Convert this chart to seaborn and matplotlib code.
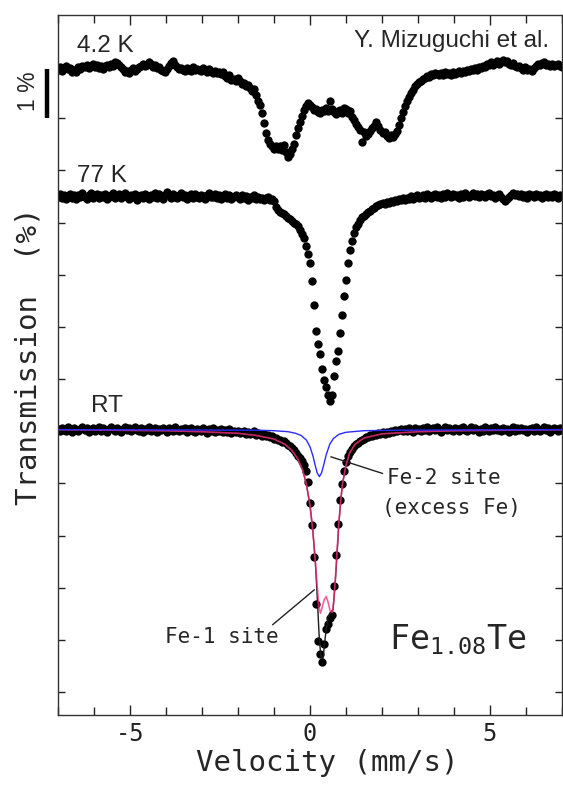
import numpy as np
import pandas as pd
import matplotlib
matplotlib.use("Agg")
import matplotlib.pyplot as plt
import matplotlib.transforms as mtransforms
from matplotlib.ticker import MultipleLocator
import seaborn as sns

# Mossbauer spectra of Fe1.08Te: relative transmission, in units of 0.01 %
t_42K = [
    -3, 2, -6, 1, 4, -2, 0, -7, -3, -8,
    3, -1, 5, 2, 7, 0, 4, 8, 3, 6,
    1, 5, -2, 4, 6, 2, 9, 5, 12, 10,
    7, 3, -2, -7, -5, -9, -3, 0, -6, -2,
    2, 5, 9, 4, 7, 12, 8, 3, 6, 1,
    2, -3, -6, -8, -2, 4, 10, 13, 6, 2,
    -2, 1, -4, -6, 0, -3, -5, 2, -4, -1,
    -3, -6, 0, -4, -7, -2, -5, -9, -6, -10,
    -8, -12, -7, -15, -18, -14, -22, -20, -25, -19,
    -24, -30, -28, -35, -33, -38, -44, -40, -52, -62,
    -70, -86, -106, -124, -138, -146, -150, -154, -149, -155,
    -150, -156, -148, -160, -170, -164, -155, -145, -128, -115,
    -104, -92, -80, -72, -66, -70, -75, -80, -78, -84,
    -86, -80, -83, -76, -82, -62, -79, -84, -88, -83,
    -80, -85, -76, -79, -86, -83, -94, -100, -107, -112,
    -118, -142, -122, -130, -126, -120, -115, -110, -104, -110,
    -118, -125, -122, -130, -134, -128, -131, -126, -120, -108,
    -96, -84, -72, -63, -55, -47, -41, -35, -31, -27,
    -24, -21, -18, -15, -17, -12, -14, -9, -11, -13,
    -10, -14, -8, -12, -9, -13, -7, -11, -10, -6,
    -9, -5, -8, -3, -6, -2, -4, 0, -3, 2,
    1, 5, 3, 8, 6, 11, 7, 10, 13, 9,
    12, 15, 11, 14, 9, 6, 10, 4, 2, 5,
    0, -3, 2, -4, -1, -5, 1, 4, 8, 6,
    10, 12, 7, 9, 5, 8, 4, 6, 9, 5, 3,
]
t_77K = [
    0, 4, -3, 2, -5, 1, 5, -2, 3, -4,
    2, -1, 6, 0, -4, 3, 7, -2, 1, 5,
    -3, 2, -1, 4, -5, 0, 3, 6, -2, 1,
    5, -3, 2, 7, 0, -4, 3, -1, 4, -6,
    1, 3, -2, 5, -1, -5, 2, 0, 6, -3,
    4, 1, -4, 3, 8, 2, -2, 5, 0, -3,
    2, 6, -1, 3, -4, 1, 4, -2, 5, 0,
    -3, 3, 1, -5, 2, 6, -1, 0, 4, -2,
    3, -4, 1, 5, -2, 2, -5, 0, 3, -1,
    -4, 2, -2, 1, -6, 0, -3, 2, -4, -1,
    -5, -2, -6, -3, 0, -7, -4, -9, -20, -26,
    -29, -31, -34, -38, -41, -43, -47, -50, -53, -57,
    -64, -71, -80, -94, -110, -128, -162, -208, -258, -282,
    -302, -330, -352, -366, -380, -392, -381, -345, -316, -297,
    -262, -228, -190, -160, -127, -103, -86, -70, -59, -52,
    -45, -40, -37, -33, -30, -27, -24, -22, -19, -17,
    -15, -13, -14, -10, -12, -8, -10, -6, -9, -5,
    -7, -3, -6, -2, -5, 1, -4, -1, 2, -3,
    0, 3, -2, 4, 1, -3, 2, 5, -1, 3,
    -2, 4, 0, 6, 2, -1, 5, 1, 3, -2,
    4, 0, 6, 2, -1, 3, 7, 1, 4, 0,
    5, 2, -1, 4, 6, 1, 3, -3, 2, 5,
    0, -4, -8, -5, -1, 3, 6, 2, 5, 1,
    4, 0, 3, -2, 5, 2, -1, 4, 1, 3,
    -2, 2, 5, 0, 3, -1, 4, 2, -2, 3, 1,
]
t_RT = [
    2, -3, 4, 0, -2, 5, 1, -4, 3, -1,
    -3, 2, 6, -1, 3, -4, 0, 4, -2, 1,
    5, -2, 3, 0, -5, 2, 6, 1, -3, 4,
    0, -4, 2, 5, -1, 3, -3, 1, 6, 0,
    -2, 4, -4, 2, 0, 5, -3, 1, 3, -5,
    2, -1, 4, 0, -4, 3, 1, -2, 5, -1,
    -3, 2, 0, 4, -5, 1, 3, -2, -4, 2,
    0, -3, 3, -1, -6, 1, -2, 4, -4, 0,
    -3, 1, -5, -1, -4, 2, -6, -2, -5, -3,
    -7, -4, -2, -8, -5, -9, -6, -3, -10, -7,
    -8, -12, -9, -13, -11, -15, -13, -17, -16, -19,
    -20, -23, -22, -26, -29, -31, -35, -39, -45, -50,
    -55, -61, -68, -80, -100, -140, -182, -245, -335, -405,
    -430, -445, -410, -382, -372, -362, -356, -300, -240, -180,
    -135, -104, -80, -62, -51, -43, -37, -32, -28, -25,
    -22, -19, -17, -14, -15, -11, -13, -9, -10, -7,
    -8, -5, -9, -4, -6, -2, -5, 0, -3, -1,
    2, -3, 1, -2, 4, 0, -4, 3, -1, 2,
    -2, 4, 0, 5, -3, 1, 3, -1, 6, 0,
    -4, 2, 5, -1, 3, 0, -3, 4, 1, -2,
    3, 6, 0, -3, 2, 5, -1, 4, 0, -4,
    2, -2, 5, 1, -3, 3, 0, 6, -1, 2,
    -3, 4, 0, 2, -4, 1, 5, -2, 3, 0,
    4, -1, 2, -5, 1, 3, -2, 5, 0, -3,
    2, 6, -1, 3, -4, 0, 4, 1, -2, 3, 0,
]

# baseline positions (%) at which each spectrum is stacked
offset_42K = 6.96
offset_77K = 4.50
offset_RT = 0.03

# RT fit curves: velocity (mm/s) and relative transmission (%)
fit_total_v = [-7, -4, -3, -2, -1.5, -1.0, -0.7, -0.5, -0.35, -0.2, -0.1, 0.0,
               0.08, 0.15, 0.2, 0.25, 0.29, 0.34, 0.4, 0.45, 0.5, 0.56, 0.62,
               0.66, 0.7, 0.75, 0.8, 0.85, 0.9, 1.0, 1.1, 1.25, 1.5, 2.0, 3.0,
               4.0, 7.0]
fit_total = [0, -0.02, -0.04, -0.07, -0.11, -0.18, -0.28, -0.40, -0.55, -0.78,
             -1.05, -1.45, -1.95, -2.55, -3.0, -3.4, -3.52, -3.4, -3.25, -3.2,
             -3.3, -3.48, -3.5, -3.3, -2.9, -2.35, -1.8, -1.4, -1.05, -0.68,
             -0.45, -0.28, -0.16, -0.08, -0.04, -0.02, 0]
fit_fe1_v = [-7, -3, -2, -1.5, -1, -0.7, -0.5, -0.35, -0.2, -0.1, 0, 0.08,
             0.15, 0.2, 0.25, 0.3, 0.36, 0.42, 0.5, 0.58, 0.64, 0.7, 0.75, 0.8,
             0.85, 0.9, 1.0, 1.1, 1.25, 1.5, 2, 3, 7]
fit_fe1 = [0, -0.04, -0.07, -0.11, -0.18, -0.28, -0.40, -0.55, -0.78, -1.05,
           -1.45, -1.95, -2.55, -3.2, -3.9, -4.35, -4.4, -4.0, -3.6, -3.5,
           -3.45, -2.95, -2.4, -1.82, -1.4, -1.05, -0.68, -0.45, -0.28, -0.16,
           -0.08, -0.04, 0]
fit_fe2_v = [-7, -1.5, -1.0, -0.6, -0.4, -0.25, -0.1, 0.0, 0.08, 0.15, 0.2,
             0.26, 0.32, 0.38, 0.45, 0.55, 0.65, 0.8, 1.0, 1.5, 2.5, 7]
fit_fe2 = [0, -0.01, -0.02, -0.04, -0.07, -0.11, -0.2, -0.33, -0.5, -0.7,
           -0.83, -0.9, -0.83, -0.68, -0.48, -0.28, -0.17, -0.09, -0.05, -0.02,
           -0.01, 0]

x_major = [-5, 0, 5]

sns.set_style("ticks")
plt.rcParams["font.family"] = ["Liberation Sans", "DejaVu Sans"]
plt.rcParams["mathtext.fontset"] = "custom"
plt.rcParams["mathtext.rm"] = "DejaVu Sans Mono"
MONO = ["DejaVu Sans Mono", "DejaVu Sans"]
SANS = ["Liberation Sans", "DejaVu Sans"]

velocity = np.linspace(-7, 7, len(t_RT))
frames = []
for name, vals, off in [("4.2 K", t_42K, offset_42K),
                        ("77 K", t_77K, offset_77K),
                        ("RT", t_RT, offset_RT)]:
    frames.append(pd.DataFrame({
        "velocity": velocity,
        "transmission": np.asarray(vals) / 100.0 + off,
        "spectrum": name,
    }))
data = pd.concat(frames, ignore_index=True)

fig = plt.figure(figsize=(5.63, 7.85), dpi=100)
ax = fig.add_axes([0.1036, 0.0892, 0.8941, 0.8917])

# fit components of the room-temperature spectrum
fe1 = pd.DataFrame({"v": fit_fe1_v, "t": np.asarray(fit_fe1) + offset_RT})
tot = pd.DataFrame({"v": fit_total_v, "t": np.asarray(fit_total) + offset_RT})
fe2 = pd.DataFrame({"v": fit_fe2_v, "t": np.asarray(fit_fe2) + offset_RT})

sns.scatterplot(data=data, x="velocity", y="transmission", color="black",
                s=36, linewidth=0, ax=ax, zorder=2, legend=False)
sns.lineplot(data=fe1, x="v", y="t", color="#1a1a1a", lw=1.0, ax=ax,
             zorder=3, sort=False)
sns.lineplot(data=tot, x="v", y="t", color="#ff2a7f", lw=1.2, alpha=0.75,
             ax=ax, zorder=4, sort=False)
sns.lineplot(data=fe2, x="v", y="t", color="#2b2bff", lw=1.0, ax=ax,
             zorder=5, sort=False)

ax.set_xlim(-7, 7)
ax.set_ylim(-5.44, 7.98)
ax.set_xticks(x_major)
ax.set_xticklabels([str(v) for v in x_major], family=MONO, fontsize=17)
ax.xaxis.set_minor_locator(MultipleLocator(1))
ax.yaxis.set_major_locator(MultipleLocator(1))
ax.set_yticklabels([])
ax.tick_params(axis="x", which="major", direction="in", length=7.5,
               width=1.0, top=True, pad=5, colors="#222222")
ax.tick_params(axis="x", which="minor", direction="in", length=5.8,
               width=1.0, top=True, colors="#222222")
ax.tick_params(axis="y", which="major", direction="in", length=5,
               width=1.0, right=True, colors="#222222")
for sp in ax.spines.values():
    sp.set_visible(True)
    sp.set_linewidth(1.0)
    sp.set_color("#333333")

ax.set_xlabel("Velocity (mm/s)", family=MONO, fontsize=21)
ax.xaxis.set_label_coords(0.534, -0.0686)
ax.xaxis.label.set_verticalalignment("center")
ax.set_ylabel("Transmission  (%)", family=MONO, fontsize=21)
ax.yaxis.set_label_coords(-0.060, 0.513)
ax.yaxis.label.set_verticalalignment("center")

# spectrum labels
ax.text(-6.49, 7.27, "4.2 K", family=SANS, fontsize=17.5, va="baseline")
ax.text(-6.49, 4.78, "77 K", family=SANS, fontsize=17.5, va="baseline")
ax.text(-6.08, 0.37, "RT", family=SANS, fontsize=17.5, va="baseline")
ax.text(6.65, 7.37, "Y. Mizuguchi et al.", family=SANS, fontsize=17.5,
        ha="right", va="baseline")

# 1 % scale bar
blend = mtransforms.blended_transform_factory(ax.transAxes, ax.transData)
ax.plot([-0.023, -0.023], [6.0, 6.94], color="black", lw=3.2,
        transform=blend, clip_on=False, solid_capstyle="butt")
ax.text(-0.060, 6.52, "1 %", family=SANS, fontsize=16.5, rotation=90,
        ha="center", va="center", transform=blend)

# site annotations
ax.plot([0.58, 2.02], [-0.49, -0.81], color="#222222", lw=1.0)
ax.text(2.15, -0.90, "Fe-2 site", family=MONO, fontsize=15, va="center")
ax.text(2.0, -1.47, "(excess Fe)", family=MONO, fontsize=15, va="center")
ax.plot([-1.04, 0.12], [-3.71, -3.04], color="#222222", lw=1.0)
ax.text(-4.02, -3.94, "Fe-1 site", family=MONO, fontsize=15, va="center")
ax.text(2.2, -4.19, r"Fe$_{\mathrm{1.08}}$Te", family=MONO, fontsize=24,
        va="baseline")

fig.savefig("out.png", dpi=100)
